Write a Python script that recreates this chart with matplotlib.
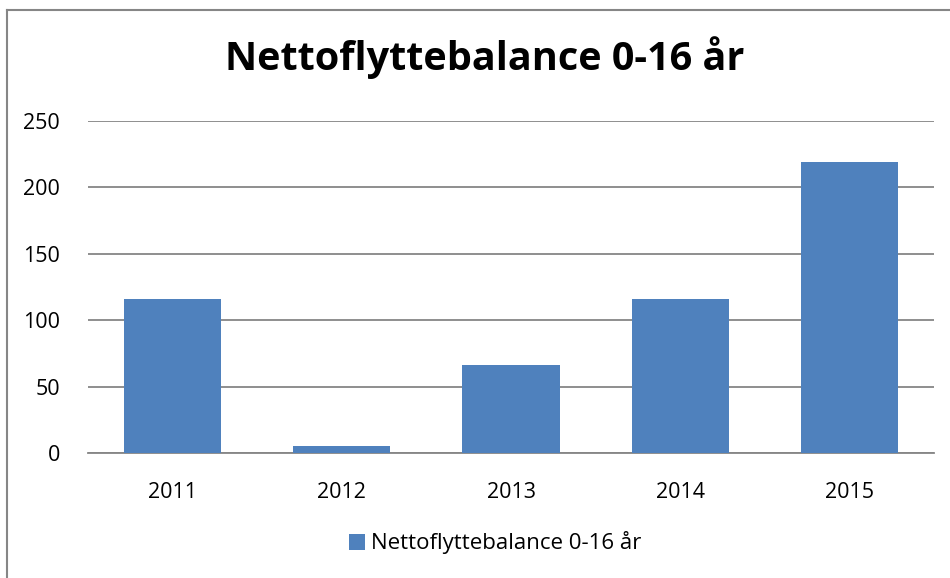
import matplotlib
matplotlib.use("Agg")
import matplotlib.pyplot as plt
from matplotlib.lines import Line2D

years = ["2011", "2012", "2013", "2014", "2015"]
values = [116, 5, 66, 116, 219]
yticks = [0, 50, 100, 150, 200, 250]
title = "Nettoflyttebalance 0-16 år"
series_name = "Nettoflyttebalance 0-16 år"

plt.rcParams['font.family'] = ['Open Sans', 'DejaVu Sans']

fig = plt.figure(figsize=(9.5, 5.78), dpi=100)
fig.patch.set_facecolor("white")
ax = fig.add_axes([88/950, 1-453/578, (934-88)/950, (453-121)/578])

x = range(len(years))
ax.bar(x, values, width=0.575, color="#4F81BD", zorder=3, label=series_name)
ax.set_xlim(-0.5, len(years) - 0.5)
ax.set_ylim(0, 250)
ax.set_yticks(yticks)
ax.set_yticklabels([str(t) for t in yticks], fontsize=15.5)
ax.set_xticks(list(x))
ax.set_xticklabels(years, fontsize=15.5)
ax.grid(axis="y", color="#868686", linewidth=1.3, zorder=0)
ax.tick_params(axis="y", length=0, pad=20)
ax.tick_params(axis="x", length=0, pad=21)
for s in ["top", "right", "left"]:
    ax.spines[s].set_visible(False)
ax.spines["bottom"].set_color("#868686")
ax.spines["bottom"].set_linewidth(1.3)

fig.text(485/950, 1-58/578, title, ha="center", va="center",
         fontsize=28.5, fontweight="bold", color="black")

leg = fig.legend(loc="center", bbox_to_anchor=(495/950, 1-543/578), frameon=False,
                 fontsize=16, handlelength=0.75, handleheight=0.75, handletextpad=0.25)

# outer chart frame (only top and left edges visible)
fig.add_artist(Line2D([7/950, 7/950], [0, 1-10/578], transform=fig.transFigure,
                      color="#868686", linewidth=1.5))
fig.add_artist(Line2D([7/950, 1], [1-10/578, 1-10/578], transform=fig.transFigure,
                      color="#868686", linewidth=1.5))

fig.savefig("out.png", dpi=100)
